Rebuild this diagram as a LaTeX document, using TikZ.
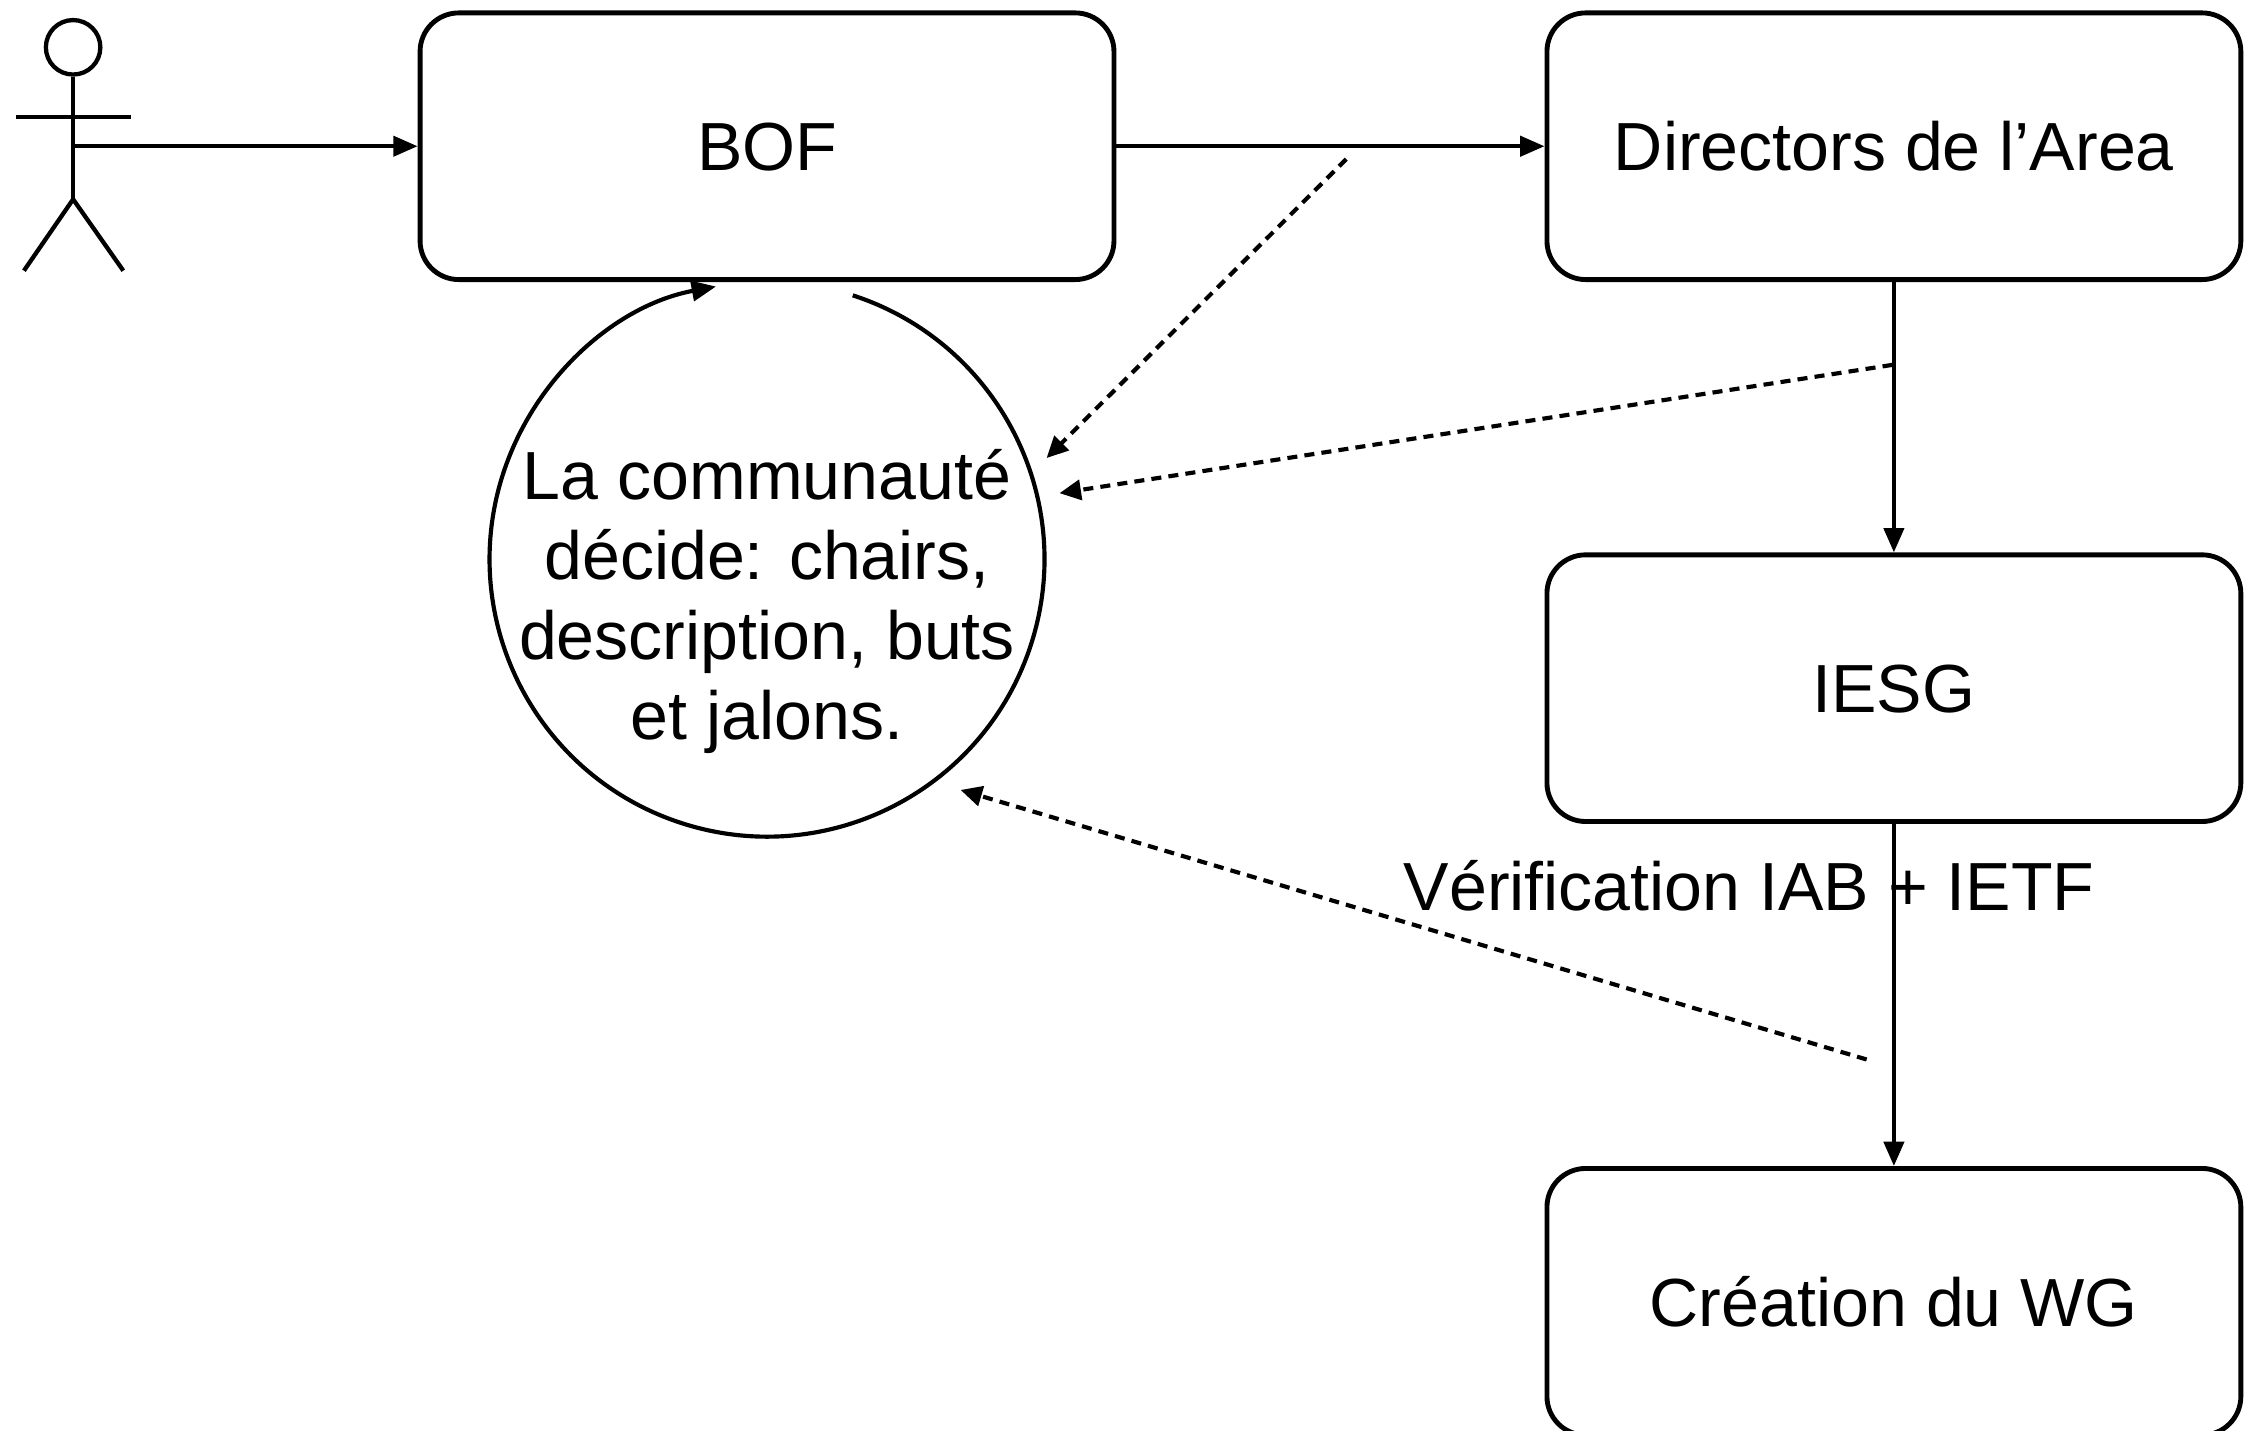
\documentclass[tikz,border=0pt]{standalone}
\usepackage{fontspec}
\setmainfont{Liberation Sans}
\usetikzlibrary{arrows.meta}
\newcommand{\bigfs}{\fontsize{47.5}{55.7}\selectfont}
\begin{document}
\begin{tikzpicture}[x=1pt,y=-1pt,
  box/.style={draw, line width=3.4pt, rounded corners=27pt, minimum width=484pt,
    minimum height=186pt, inner sep=0pt, font=\bigfs, text height=34pt, text depth=0pt},
  conn/.style={line width=2.9pt, -{Triangle[length=17pt,width=14pt]}},
  dconn/.style={line width=2.9pt, dash pattern=on 7pt off 5pt, -{Triangle[length=15pt,width=14pt]}},
  actorline/.style={line width=3pt},
  txt/.style={font=\bigfs, inner sep=0pt}
]
\useasboundingbox (0,0) rectangle (1568,998);
\clip (0,0) rectangle (1568,998);

% actor
\node[draw, circle, actorline, minimum size=38pt, inner sep=0pt] (head) at (51,33) {};
\coordinate (hip) at (51,139);
\coordinate (hand) at (52,102);
\coordinate (armL) at (11,81.4);
\coordinate (armR) at (91.4,81.4);
\coordinate (footL) at (16.7,188.8);
\coordinate (footR) at (86,188.8);
\draw[actorline] (head.south) -- (hip);
\draw[actorline] (armL) -- (armR);
\draw[actorline] (footL) -- (hip) -- (footR);

% boxes
\node[box] (bof) at (535,102) {BOF};
\node[box] (dir) at (1321,102) {Directors de l’Area};
\node[box] (iesg) at (1321,480) {IESG};
\node[box] (wg) at (1321,908) {Création du WG};

% community circle
\node[circle, minimum size=387pt, inner sep=0pt] (comm) at (535,390) {};
\node[txt, align=center, anchor=north] (commtext) at (535,313.5)
  {La communauté\\décide: chairs,\\description, buts\\et jalons.};
\coordinate (arcstart) at (594.8,206);
\draw[conn] (arcstart) arc[start angle=-72, end angle=259.4, radius=193.5];

% solid connectors
\draw[conn] (hand) -- (bof.west);
\draw[conn] (bof.east) -- (dir.west);
\draw[conn] (dir.south) -- (iesg.north);
\node[txt, anchor=base] (verif) at (1220,635) {Vérification IAB + IETF};
\draw[conn] (iesg.south) -- (wg.north);

% dashed feedback
\coordinate (d1s) at (939,111);
\coordinate (d1e) at (730,319.5);
\coordinate (d2s) at (1320,254.5);
\coordinate (d2e) at (739,344);
\coordinate (d3s) at (1302,739);
\coordinate (d3e) at (670,551);
\draw[dconn] (d1s) -- (d1e);
\draw[dconn] (d2s) -- (d2e);
\draw[dconn] (d3s) -- (d3e);
\end{tikzpicture}
\end{document}
